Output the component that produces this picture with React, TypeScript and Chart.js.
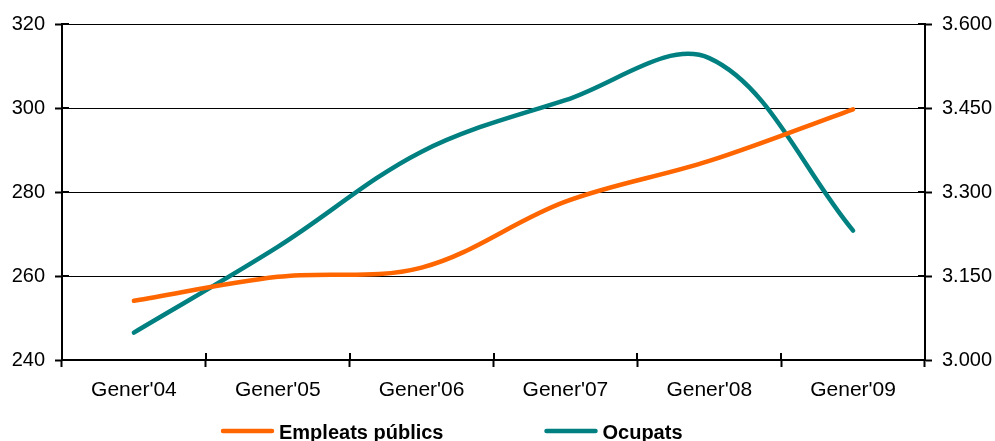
import React, { useEffect, useRef } from "react";
import { Chart, registerables } from "chart.js";

Chart.register(...registerables);

const categories = ["Gener'04", "Gener'05", "Gener'06", "Gener'07", "Gener'08", "Gener'09"];
const empleatsPublics = [254.1, 259.8, 262.0, 277.7, 287.4, 299.7];
const ocupats = [3049, 3202, 3372, 3464, 3539, 3231];
const seriesLabels = ["Empleats públics", "Ocupats"];
const seriesColors = ["#FF6600", "#008080"];

const FONT = "Arial, 'Liberation Sans', sans-serif";

const fmtThousands = (v: number) => {
  const n = Math.round(v);
  const th = Math.floor(n / 1000);
  const rest = n % 1000;
  return th > 0 ? th + "." + String(rest).padStart(3, "0") : String(rest);
};

const innerTicks = {
  id: "innerTicks",
  afterDraw(chart: any) {
    const ctx = chart.ctx;
    const area = chart.chartArea;
    const x = chart.scales.x;
    const yl = chart.scales.y;
    const yr = chart.scales.y1;
    ctx.save();
    ctx.strokeStyle = "#000";
    ctx.lineWidth = 2;
    ctx.beginPath();
    for (let i = 0; i <= categories.length; i++) {
      const px = Math.round(x.getPixelForValue(i - 0.5));
      ctx.moveTo(px, area.bottom);
      ctx.lineTo(px, area.bottom - 7);
    }
    yl.ticks.forEach((t: any) => {
      const py = yl.getPixelForValue(t.value);
      ctx.moveTo(area.left, py);
      ctx.lineTo(area.left + 7, py);
    });
    yr.ticks.forEach((t: any) => {
      const py = yr.getPixelForValue(t.value);
      ctx.moveTo(area.right, py);
      ctx.lineTo(area.right - 7, py);
    });
    ctx.stroke();
    ctx.restore();
  },
};

const bottomLegend = {
  id: "bottomLegend",
  afterDraw(chart: any) {
    const ctx = chart.ctx;
    ctx.save();
    ctx.font = "bold 20px " + FONT;
    ctx.textBaseline = "middle";
    ctx.textAlign = "left";
    const y = 431;
    const lineLen = 53;
    const gap = 5;
    const itemGap = 101;
    let cx = 221;
    chart.data.datasets.forEach((ds: any) => {
      ctx.strokeStyle = ds.borderColor;
      ctx.lineWidth = 4.5;
      ctx.lineCap = "round";
      ctx.beginPath();
      ctx.moveTo(cx + 2, y);
      ctx.lineTo(cx + lineLen - 2, y);
      ctx.stroke();
      ctx.fillStyle = "#000";
      ctx.fillText(ds.label, cx + lineLen + gap, y + 2);
      cx += lineLen + gap + ctx.measureText(ds.label).width + itemGap;
    });
    ctx.restore();
  },
};

export default function App() {
  const ref = useRef<HTMLCanvasElement | null>(null);

  useEffect(() => {
    if (!ref.current) return;
    const chart = new Chart(ref.current, {
      type: "line",
      data: {
        labels: categories,
        datasets: [
          {
            label: seriesLabels[0],
            data: empleatsPublics,
            borderColor: seriesColors[0],
            backgroundColor: seriesColors[0],
            borderWidth: 4.5,
            pointRadius: 0,
            tension: 0.35,
            borderCapStyle: "round",
            yAxisID: "y",
          },
          {
            label: seriesLabels[1],
            data: ocupats,
            borderColor: seriesColors[1],
            backgroundColor: seriesColors[1],
            borderWidth: 4.5,
            pointRadius: 0,
            tension: 0.35,
            borderCapStyle: "round",
            yAxisID: "y1",
          },
        ],
      },
      options: {
        responsive: false,
        animation: false,
        layout: { padding: { top: 24, left: 0, right: 0, bottom: 0 } },
        plugins: {
          legend: { display: false },
          tooltip: { enabled: false },
        },
        scales: {
          x: {
            offset: true,
            grid: {
              offset: true,
              drawOnChartArea: false,
              tickLength: 7,
              tickWidth: 2,
              tickColor: "#000",
            },
            border: { display: true, color: "#000", width: 2 },
            ticks: {
              color: "#000",
              font: { family: FONT, size: 21 },
              padding: 11,
              maxRotation: 0,
              autoSkip: false,
            },
            afterFit: (s: any) => {
              s.height = 81;
            },
          },
          y: {
            position: "left",
            min: 240,
            max: 320,
            ticks: {
              stepSize: 20,
              color: "#000",
              font: { family: FONT, size: 20 },
              padding: 10,
            },
            grid: {
              color: "#000",
              lineWidth: 1,
              tickLength: 7,
              tickWidth: 2,
              tickColor: "#000",
            },
            border: { display: true, color: "#000", width: 2 },
            afterFit: (s: any) => {
              s.width = 62;
            },
          },
          y1: {
            position: "right",
            min: 3000,
            max: 3600,
            ticks: {
              stepSize: 150,
              color: "#000",
              font: { family: FONT, size: 20 },
              padding: 10,
              callback: (v: any) => fmtThousands(Number(v)),
            },
            grid: {
              drawOnChartArea: false,
              tickLength: 7,
              tickWidth: 2,
              tickColor: "#000",
            },
            border: { display: true, color: "#000", width: 2 },
            afterFit: (s: any) => {
              s.width = 70;
            },
          },
        },
      },
      plugins: [innerTicks, bottomLegend],
    });
    return () => chart.destroy();
  }, []);

  return (
    <div style={{ position: "fixed", left: 0, top: 0, width: 995, height: 441, background: "#fff" }}>
      <canvas ref={ref} width={995} height={441} />
    </div>
  );
}
